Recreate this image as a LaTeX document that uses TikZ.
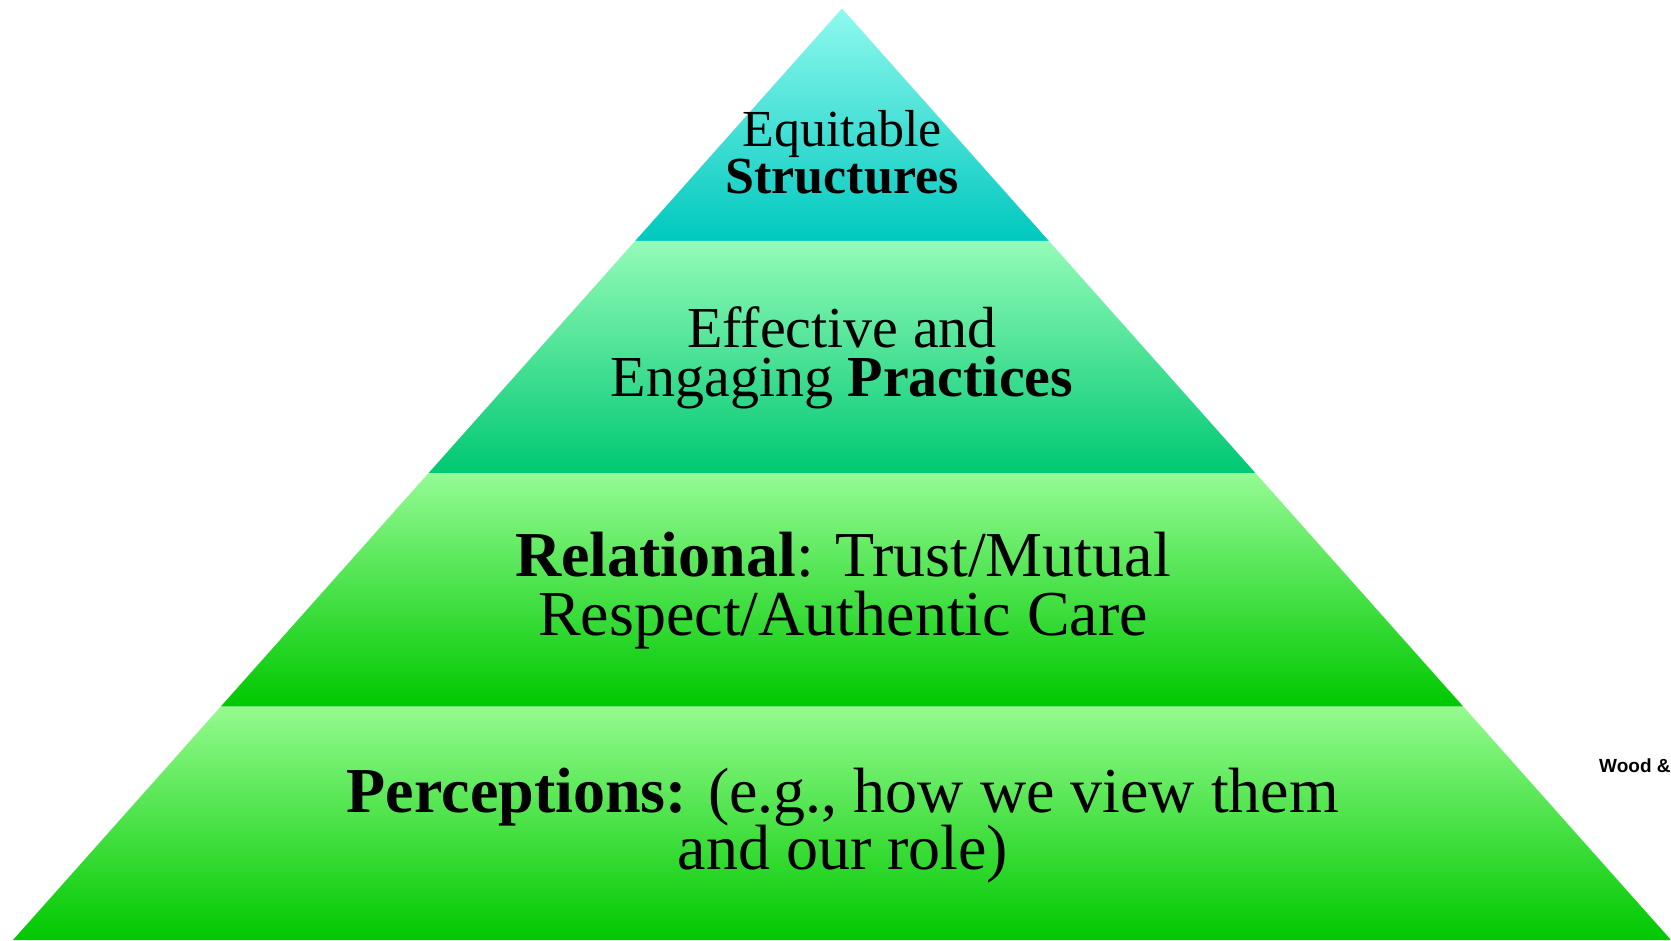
\documentclass[tikz,border=0pt]{standalone}
\usepackage{fontspec}
\setmainfont{Liberation Serif}
\newfontfamily\citefont{Liberation Sans}
\definecolor{aTop}{HTML}{8FF9EE}
\definecolor{aMid}{HTML}{60ECE2}
\definecolor{aBot}{HTML}{00C8BE}
\definecolor{bTop}{HTML}{94FBB8}
\definecolor{bMid}{HTML}{6AEEA4}
\definecolor{bBot}{HTML}{00C873}
\definecolor{cTop}{HTML}{94FB94}
\definecolor{cMid}{HTML}{6CEE6C}
\definecolor{cBot}{HTML}{00C800}
\definecolor{dTop}{HTML}{94FB8E}
\definecolor{dMid}{HTML}{6CEE66}
\definecolor{dBot}{HTML}{00C800}
\tikzset{
  lbl/.style={anchor=base, inner sep=0pt, text=black},
  sA/.style={lbl, font=\fontsize{52}{52}\selectfont},
  sB/.style={lbl, font=\fontsize{58}{58}\selectfont},
  sC/.style={lbl, font=\fontsize{64}{64}\selectfont},
}
\begin{document}
\begin{tikzpicture}[x=1pt,y=-1pt]
\useasboundingbox (0,0) rectangle (1671,940);
% bands
\shade[top color=aTop, middle color=aMid, bottom color=aBot] (842,8.5) -- (1048.7,240.8) -- (635.3,240.8) -- cycle;
\shade[top color=bTop, middle color=bMid, bottom color=bBot] (635.3,240.8) -- (1048.7,240.8) -- (1255.4,473) -- (428.6,473) -- cycle;
\shade[top color=cTop, middle color=cMid, bottom color=cBot] (428.6,473) -- (1255.4,473) -- (1463.2,706.5) -- (220.8,706.5) -- cycle;
\shade[top color=dTop, middle color=dMid, bottom color=dBot] (220.8,706.5) -- (1463.2,706.5) -- (1671,940) -- (13,940) -- cycle;
% texts
\node[sA] (a1) at (842,146) {Equitable};
\node[sA] (a2) at (842,193) {\textbf{Structures}};
\node[sB] (b1) at (842,347) {Effective and};
\node[sB] (b2) at (842,396.5) {Engaging \textbf{Practices}};
\node[sC] (c1) at (843,576.5) {\textbf{Relational}: Trust/Mutual};
\node[sC] (c2) at (843,635) {Respect/Authentic Care};
\node[sC] (d1) at (843,812) {\textbf{Perceptions:} (e.g., how we view them};
\node[sC] (d2) at (843,869.5) {and our role)};
\node[anchor=base west, inner sep=0pt, font=\citefont\bfseries\fontsize{19}{19}\selectfont] (cite) at (1599,772) {Wood \&};
\end{tikzpicture}
\end{document}
